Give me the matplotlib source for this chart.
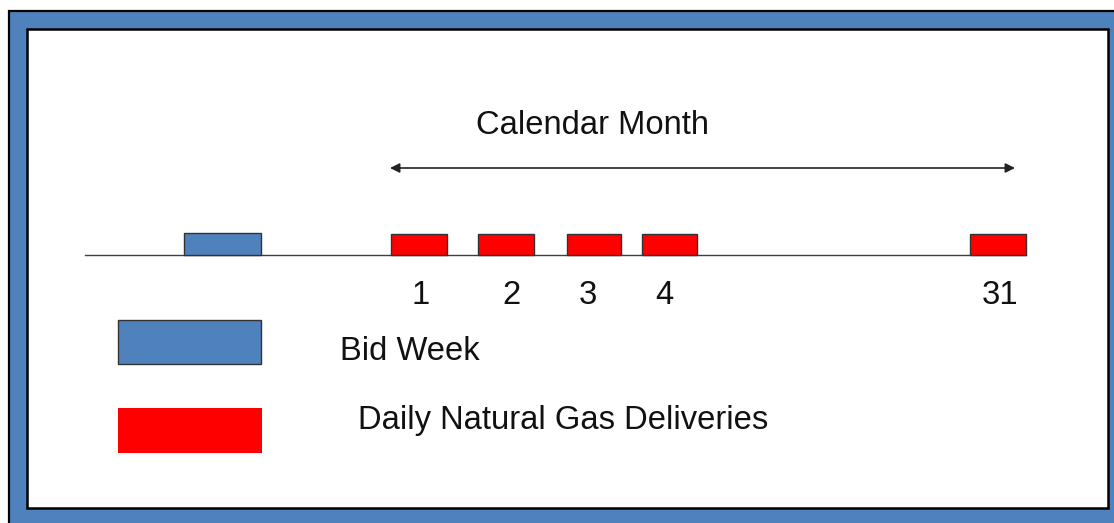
import matplotlib.pyplot as plt
from matplotlib.patches import Rectangle

# Schematic data
days = ["1", "2", "3", "4", "31"]
day_left = [391, 478, 567, 642, 970]      # left edge of each delivery day block (px)
day_width = [56, 56, 54, 55, 56]
label_x = [421, 511, 588, 664, 1000]       # where the day number sits
bid_week = (184, 77)                       # left, width (px)
title = "Calendar Month"
legend_labels = ["Bid Week", "Daily Natural Gas Deliveries"]

BLUE = "#4F81BD"
RED = "#FF0000"
FS = 23.6

W, H = 1114, 523
fig = plt.figure(figsize=(W / 100, H / 100), dpi=100)
ax = fig.add_axes([0, 0, 1, 1])
ax.set_xlim(0, W)
ax.set_ylim(H, 0)
ax.axis("off")
plt.rcParams["font.family"] = ["Liberation Sans", "DejaVu Sans"]

# ----------------------------
# frame
# ----------------------------
ax.add_patch(Rectangle((9, 11), W, H, facecolor=BLUE, edgecolor="black", lw=1.6))
ax.add_patch(Rectangle((27, 29), 1081, 479, facecolor="white", edgecolor="black", lw=1.8))

# ----------------------------
# timeline
# ----------------------------
ax.plot([85, day_left[-1] + day_width[-1]], [255, 255], color="#404040", lw=1.0, zorder=2)

ax.add_patch(Rectangle((bid_week[0], 233), bid_week[1], 22,
                       facecolor=BLUE, edgecolor="#333333", lw=1.0, zorder=3))

for d, x, w, lx in zip(days, day_left, day_width, label_x):
    ax.add_patch(Rectangle((x, 234), w, 21, facecolor=RED, edgecolor="#333333", lw=1.0, zorder=3))
    ax.text(lx, 296, d, fontsize=FS, ha="center", va="center", color="#111111")

# calendar month arrow
ax.annotate("", xy=(390, 168), xytext=(1015, 168),
            arrowprops=dict(arrowstyle="<|-|>", color="#222222", lw=1.2,
                            mutation_scale=14, shrinkA=0, shrinkB=0))
ax.text(593, 126, title, fontsize=FS, ha="center", va="center", color="#111111")

# ----------------------------
# legend
# ----------------------------
ax.add_patch(Rectangle((118, 320), 143, 44, facecolor=BLUE, edgecolor="#333333", lw=1.0))
ax.add_patch(Rectangle((118, 408), 144, 45, facecolor=RED, edgecolor="none"))
ax.text(340, 351, legend_labels[0], fontsize=FS, ha="left", va="center", color="#111111")
ax.text(358, 421, legend_labels[1], fontsize=FS, ha="left", va="center", color="#111111")

fig.savefig("out.png", dpi=100)
